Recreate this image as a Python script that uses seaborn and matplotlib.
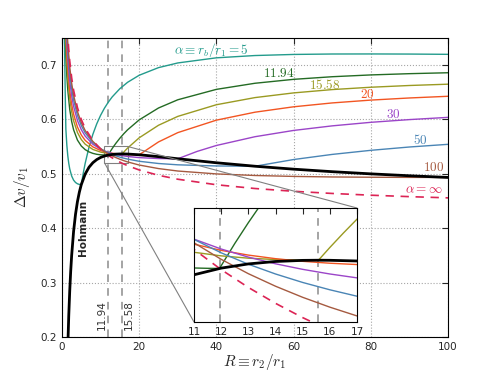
import seaborn as sns
import matplotlib.pyplot as plt
from mpl_toolkits.axes_grid1.inset_locator import mark_inset

# R = r2/r1 and delta-v / v1
r_hoh = [1, 1.25, 1.5, 1.75, 2, 2.25, 2.5, 3, 3.5, 4, 4.5, 5, 6, 7, 8, 9, 10,
         11, 12, 13, 14, 15, 15.58, 16, 17, 20, 25, 30, 40, 50, 60, 70, 80, 90, 100]
dv_hoh = [0.0, 0.1053, 0.1817, 0.2394, 0.2845, 0.3204, 0.3496, 0.3939, 0.4254, 0.4487,
          0.4663, 0.4800, 0.4993, 0.5119, 0.5202, 0.5259, 0.5298,
          0.53243, 0.53418, 0.53529, 0.53593, 0.53622, 0.53626, 0.53624, 0.53606,
          0.53473, 0.53128, 0.52741, 0.52005, 0.51369, 0.50830, 0.50368, 0.49969, 0.49620, 0.49312]

r_a5 = [0.6, 0.7, 0.8, 0.9, 1, 1.25, 1.5, 1.75, 2, 2.5, 3, 3.5, 4, 4.5, 5, 5.5, 6, 7, 8, 9,
        10, 11, 12, 13, 15, 17, 20, 25, 30, 40, 50, 60, 70, 80, 90, 100]
dv_a5 = [0.7763, 0.7154, 0.6643, 0.6204, 0.5820, 0.5526, 0.5329, 0.5190, 0.5089, 0.4958,
         0.4882, 0.4839, 0.4815, 0.4803, 0.4800, 0.5008, 0.5189, 0.5488, 0.5724, 0.5915,
         0.6072, 0.6203, 0.6314, 0.6409, 0.6561, 0.6678, 0.6807, 0.6947, 0.7033, 0.7127,
         0.7169, 0.7189, 0.7197, 0.7198, 0.7196, 0.7191]

r_a1194 = [0.8, 0.9, 1, 1.25, 1.5, 2, 2.5, 3, 4, 5, 6, 7, 8, 9, 10, 11, 11.5, 11.94, 12.5,
           13, 13.5, 14, 15, 16, 17, 20, 25, 30, 40, 50, 60, 70, 80, 90, 100]
dv_a1194 = [0.7823, 0.7473, 0.7169, 0.6797, 0.6533, 0.6181, 0.5959, 0.5807, 0.5617, 0.5508,
            0.5442, 0.5400, 0.5373, 0.5356, 0.5347, 0.53422, 0.53413, 0.53410, 0.54065,
            0.54614, 0.55132, 0.55620, 0.5652, 0.5733, 0.5806, 0.5988, 0.6206, 0.6357,
            0.6548, 0.6660, 0.6732, 0.6780, 0.6813, 0.6836, 0.6853]

r_a1558 = [0.9, 1, 1.25, 1.5, 2, 2.5, 3, 4, 5, 6, 8, 10, 11, 12, 13, 14, 15, 15.58, 16,
           16.5, 17, 20, 25, 30, 40, 50, 60, 70, 80, 90, 100]
dv_a1558 = [0.7705, 0.7418, 0.7032, 0.6753, 0.6381, 0.6140, 0.5972, 0.5756, 0.5626, 0.5542,
            0.5445, 0.5397, 0.53835, 0.53741, 0.53680, 0.53644, 0.53628, 0.53626, 0.53961,
            0.54342, 0.54707, 0.5659, 0.5889, 0.6052, 0.6266, 0.6397, 0.6483, 0.6544,
            0.6587, 0.6619, 0.6643]

r_big = [1, 1.25, 1.5, 2, 2.5, 3, 4, 5, 6, 8, 10, 11, 12, 13, 14, 15, 16, 17, 20, 25, 30,
         40, 50, 60, 70, 80, 90, 100]
dv_a20 = [0.7603, 0.7205, 0.6918, 0.6528, 0.6274, 0.6094, 0.5857, 0.5710, 0.5612, 0.5492,
          0.5426, 0.54048, 0.53885, 0.53761, 0.53667, 0.53597, 0.53547, 0.53512, 0.53473,
          0.5583, 0.5754, 0.5983, 0.6129, 0.6228, 0.6299, 0.6351, 0.6390, 0.6421]
r_a30 = [1, 1.25, 1.5, 2, 2.5, 3, 4, 5, 6, 8, 10, 11, 12, 13, 14, 15, 16, 17, 20, 25, 30,
         35, 40, 50, 60, 70, 80, 90, 100]
dv_a30 = [0.7824, 0.7414, 0.7116, 0.6705, 0.6433, 0.6238, 0.5976, 0.5808, 0.5690, 0.5540,
          0.5450, 0.54181, 0.53921, 0.53708, 0.53532, 0.53386, 0.53264, 0.53162, 0.5295,
          0.5278, 0.5274, 0.5409, 0.5518, 0.5679, 0.5794, 0.5878, 0.5943, 0.5993, 0.6034]
dv_a50 = [0.8006, 0.7585, 0.7277, 0.6850, 0.6563, 0.6356, 0.6071, 0.5884, 0.5750, 0.5572,
          0.5459, 0.54174, 0.53821, 0.53521, 0.53264, 0.53041, 0.52848, 0.52679, 0.5228,
          0.5187, 0.5163, 0.5142, 0.5137, 0.5260, 0.5354, 0.5429, 0.5490, 0.5539]
dv_a100 = [0.8144, 0.7715, 0.7400, 0.6960, 0.6662, 0.6444, 0.6142, 0.5940, 0.5793, 0.5592,
           0.5459, 0.54085, 0.53650, 0.53272, 0.52942, 0.52650, 0.52391, 0.52160, 0.5159,
           0.5094, 0.5049, 0.4996, 0.4967, 0.4950, 0.4940, 0.4935, 0.4932, 0.4931]

r_inf = [1, 1.25, 1.5, 1.75, 2, 2.5, 3, 4, 5, 6, 8, 10, 11, 12, 13, 14, 15, 16, 17, 20, 25,
         30, 40, 50, 60, 70, 80, 90, 100]
dv_inf = [0.82843, 0.78470, 0.75242, 0.72733, 0.70711, 0.67619, 0.65336, 0.62132, 0.59945,
          0.58332, 0.56066, 0.54520, 0.53910, 0.53379, 0.52910, 0.52492, 0.52116, 0.51777,
          0.51468, 0.50684, 0.49706, 0.48984, 0.47971, 0.47279, 0.46769, 0.46372, 0.46052,
          0.45788, 0.45564]

crit_r = [11.94, 15.58]

sns.set_style("white")
plt.rcParams['font.family'] = ['DejaVu Sans']
plt.rcParams['mathtext.fontset'] = 'cm'

teal, green, olive = '#239b8c', '#246b24', '#9a9a22'
orange, purple, blue = '#f25522', '#9b45c8', '#4a85b5'
brown, crimson = '#a55a40', '#dc2455'

curves = [
    (r_a5, dv_a5, teal), (r_a1194, dv_a1194, green), (r_a1558, dv_a1558, olive),
    (r_big, dv_a20, orange), (r_a30, dv_a30, purple), (r_big, dv_a50, blue),
    (r_big, dv_a100, brown),
]

fig = plt.figure(figsize=(5, 3.75), dpi=100)
ax = fig.add_axes([0.124, 0.101, 0.772, 0.799])
axins = fig.add_axes([0.388, 0.1413, 0.326, 0.304])

for a in (ax, axins):
    for r, dv, c in curves:
        sns.lineplot(x=r, y=dv, ax=a, color=c, lw=1, sort=False, estimator=None)
    sns.lineplot(x=r_inf, y=dv_inf, ax=a, color=crimson, lw=1.2, linestyle=(0, (5, 4)),
                 sort=False, estimator=None)
    sns.lineplot(x=r_hoh, y=dv_hoh, ax=a, color='k', lw=2, sort=False, estimator=None)
    for xr in crit_r:
        a.axvline(xr, color='0.55', lw=1.1, ls=(0, (5, 4)), zorder=1)
    a.tick_params(direction='in', top=True, right=True, labelsize=7.5, length=4)
    a.set_xlabel('')
    a.set_ylabel('')

ax.set_xlim(0, 100)
ax.set_ylim(0.2, 0.75)
ax.set_xticks([0, 20, 40, 60, 80, 100])
ax.set_yticks([0.2, 0.3, 0.4, 0.5, 0.6, 0.7])
ax.grid(True, color='0.65', ls=':', lw=0.8)
ax.set_xlabel(r'$R \equiv r_2/r_1$', fontsize=11, labelpad=0)
ax.set_ylabel(r'$\Delta v/v_1$', fontsize=11, labelpad=6)
for s in ax.spines.values():
    s.set_color('k')

fs = 9.5
ax.text(29, 0.727, r'$\alpha \equiv r_b/r_1 = 5$', color=teal, fontsize=fs, va='center')
ax.text(52, 0.6835, r'$11.94$', color=green, fontsize=fs, va='center')
ax.text(64, 0.6633, r'$15.58$', color=olive, fontsize=fs, va='center')
ax.text(77.2, 0.645, r'$20$', color=orange, fontsize=fs, va='center')
ax.text(84, 0.608, r'$30$', color=purple, fontsize=fs, va='center')
ax.text(91, 0.561, r'$50$', color=blue, fontsize=fs, va='center')
ax.text(93.5, 0.511, r'$100$', color=brown, fontsize=fs, va='center')
ax.text(88.9, 0.4706, r'$\alpha = \infty$', color=crimson, fontsize=fs, va='center')
ax.text(5.4, 0.4005, 'Hohmann', rotation=90, fontweight='bold', fontsize=7.5,
        ha='center', va='center')
ax.text(10.3, 0.24, '11.94', rotation=90, fontsize=7.5, color='0.2', ha='center', va='center')
ax.text(17.4, 0.24, '15.58', rotation=90, fontsize=7.5, color='0.2', ha='center', va='center')

axins.set_xlim(11, 17)
axins.set_ylim(0.52, 0.55)
axins.set_xticks([11, 12, 13, 14, 15, 16, 17])
axins.set_yticks([])
for s in axins.spines.values():
    s.set_color('k')
mark_inset(ax, axins, loc1=1, loc2=3, fc='none', ec='0.5', lw=0.8)

fig.savefig('out.png', dpi=100)
